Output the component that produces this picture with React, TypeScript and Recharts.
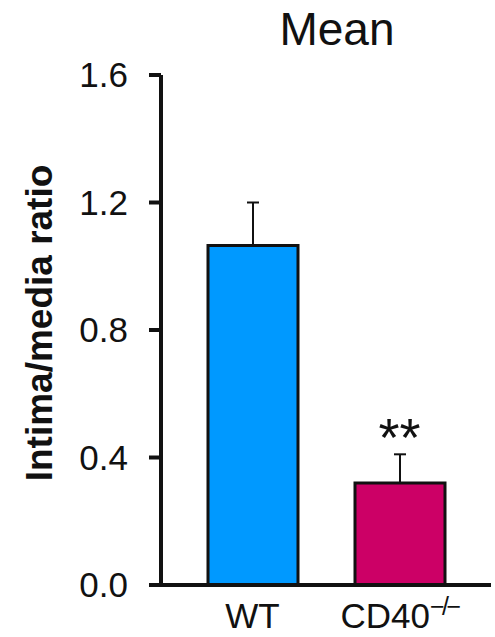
import { ComposedChart, Bar, Line, XAxis, YAxis, ErrorBar, Cell, LabelList } from 'recharts';

const groups = ['WT', 'CD40−/−'];
const means = [1.065, 0.32];
const errors = [0.135, 0.09];
const marks = ['', '**'];
const barColors = ['#0099FF', '#CC0066'];
const yTicks = [0, 0.4, 0.8, 1.2, 1.6];

const FONT = '"Liberation Sans", Arial, Helvetica, sans-serif';
const INK = '#111';

const data = groups.map((group, i) => ({
  group,
  mean: means[i],
  err: [0, errors[i]],
  mark: marks[i],
  markY: marks[i] ? means[i] + errors[i] : null,
}));

function GroupTick({ x, y, payload }: any) {
  const label: string = payload.value;
  const m = label.match(/^(.*?)(−\/−)$/);
  const base = m ? m[1] : label;
  const sup = m ? m[2] : '';
  return (
    <text x={x} y={y} dy={43} textAnchor="middle" fontFamily={FONT} fontSize={35} fill={INK}>
      {base}
      {sup && (
        <tspan fontSize={25} dy={-13} letterSpacing={-2.5}>
          {sup}
        </tspan>
      )}
    </text>
  );
}

function MarkLabel(props: any) {
  const { value } = props;
  if (!value) return null;
  const x = props.x ?? props.viewBox?.x;
  const y = props.y ?? props.viewBox?.y;
  return (
    <text x={x} y={y + 2} textAnchor="middle" fontFamily={FONT} fontSize={54} fill={INK}>
      {value}
    </text>
  );
}

function YTitle({ viewBox }: any) {
  const cx = 52;
  const cy = viewBox.y + viewBox.height / 2 - 7;
  return (
    <text
      x={cx}
      y={cy}
      textAnchor="middle"
      fontFamily={FONT}
      fontWeight="bold"
      fontSize={37}
      fill={INK}
      transform={`rotate(-90, ${cx}, ${cy})`}
    >
      Intima/media ratio
    </text>
  );
}

export default function App() {
  return (
    <div style={{ position: 'absolute', left: 0, top: 0, width: 495, height: 637, background: '#fff' }}>
      <ComposedChart width={495} height={637} data={data} margin={{ top: 75, right: 4, bottom: 0, left: 0 }}>
        <XAxis
          dataKey="group"
          height={52}
          padding={{ left: 18, right: 18 }}
          stroke={INK}
          strokeWidth={4}
          axisLine={{ stroke: INK, strokeWidth: 4 }}
          tickLine={false}
          tickSize={0}
          tickMargin={0}
          tick={<GroupTick />}
          interval={0}
        />
        <YAxis
          width={161}
          domain={[0, 1.6]}
          ticks={yTicks}
          interval={0}
          tickFormatter={(v: number) => v.toFixed(1)}
          stroke={INK}
          strokeWidth={4}
          axisLine={{ stroke: INK, strokeWidth: 4 }}
          tickLine={{ stroke: INK, strokeWidth: 4 }}
          tickSize={12}
          tickMargin={21}
          tick={{ fill: INK, stroke: 'none', fontSize: 35, fontFamily: FONT }}
          label={<YTitle />}
        />
        <Bar dataKey="mean" barSize={90} stroke={INK} strokeWidth={3} isAnimationActive={false}>
          {data.map((d, i) => (
            <Cell key={d.group} fill={barColors[i]} />
          ))}
          <ErrorBar dataKey="err" width={6} stroke={INK} strokeWidth={2} direction="y" />
        </Bar>
        <Line
          dataKey="markY"
          stroke="none"
          dot={false}
          activeDot={false}
          legendType="none"
          isAnimationActive={false}
        >
          <LabelList dataKey="mark" content={<MarkLabel />} />
        </Line>
      </ComposedChart>
      <svg width={495} height={637} style={{ position: 'absolute', left: 0, top: 0, pointerEvents: 'none' }}>
        <text x={337} y={45} textAnchor="middle" fontFamily={FONT} fontSize={46} fill={INK}>
          Mean
        </text>
      </svg>
    </div>
  );
}
